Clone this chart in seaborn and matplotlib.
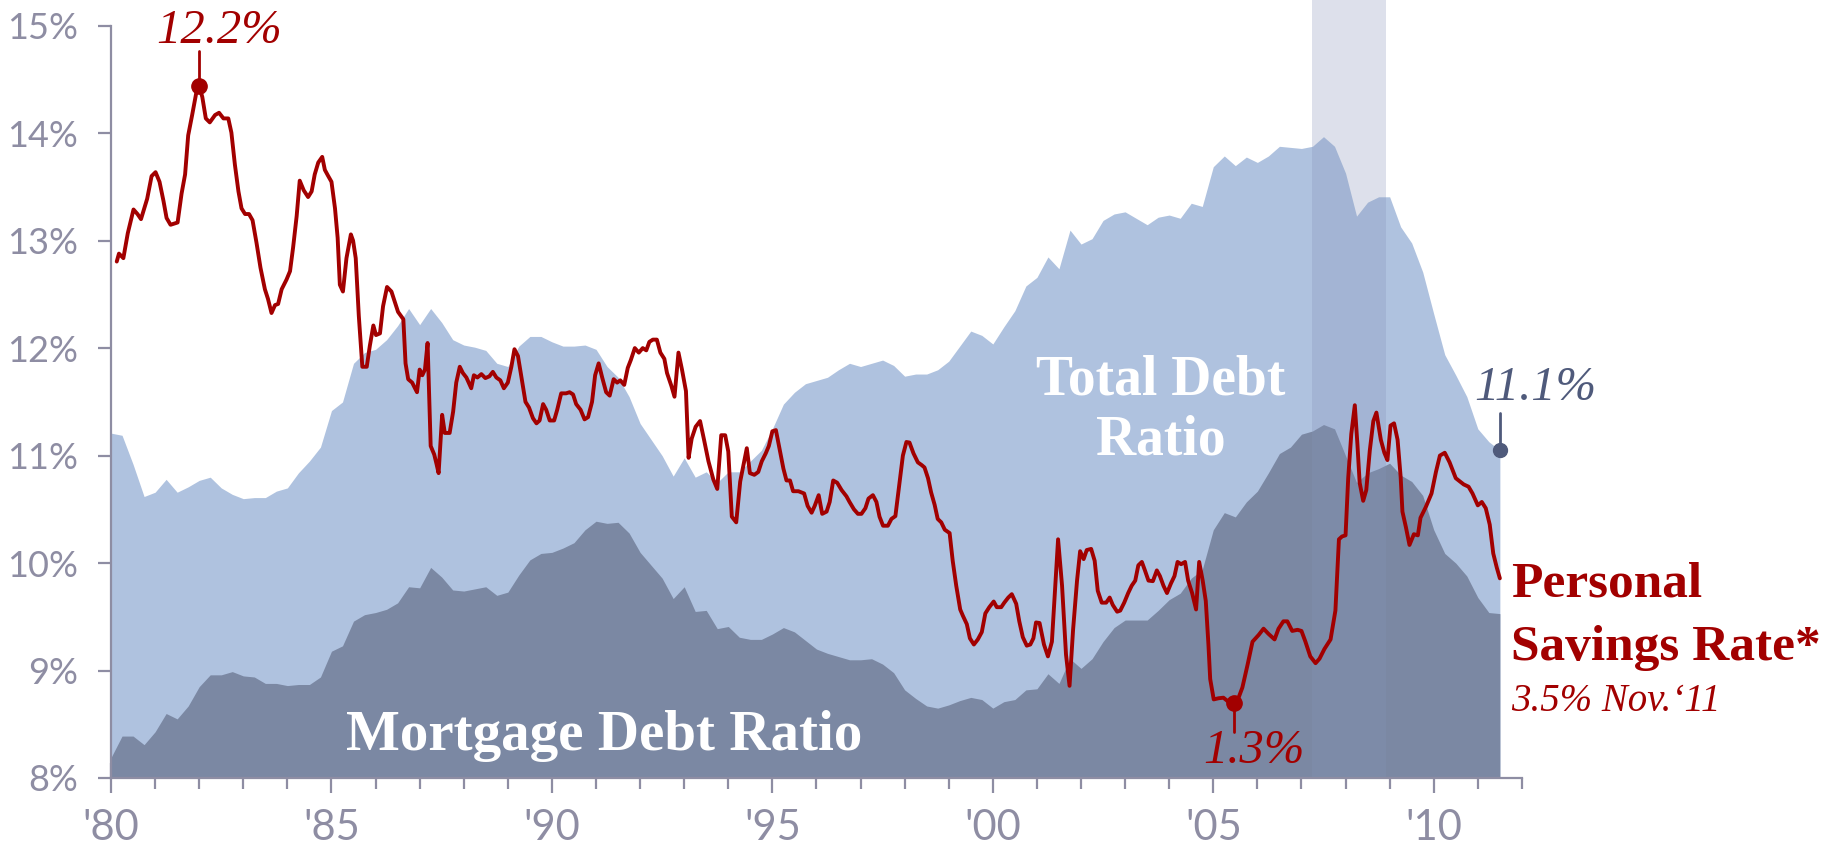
import numpy as np
import pandas as pd
import matplotlib
matplotlib.use('Agg')
import matplotlib.pyplot as plt
import seaborn as sns

sns.set_theme(style='white')
plt.rcParams['font.family'] = ['Lato', 'DejaVu Sans']
SERIF = ['Liberation Serif', 'DejaVu Serif']

# ==================== data ====================
# quarterly debt ratios, % of disposable income, 1980Q1 .. 2011Q3
total_debt = [
    11.21, 11.19, 10.92, 10.62, 10.66, 10.78, 10.66, 10.71, 10.77, 10.80, 10.70, 10.64,
    10.60, 10.61, 10.61, 10.67, 10.70, 10.84, 10.95, 11.08, 11.42, 11.50, 11.86, 11.96,
    11.99, 12.08, 12.21, 12.37, 12.22, 12.37, 12.24, 12.08, 12.03, 12.01, 11.98, 11.86,
    11.83, 12.02, 12.11, 12.11, 12.06, 12.02, 12.02, 12.03, 11.99, 11.83, 11.73, 11.55,
    11.30, 11.15, 11.00, 10.81, 10.98, 10.80, 10.85, 10.75, 10.85, 10.85, 10.95, 11.05,
    11.25, 11.48, 11.59, 11.67, 11.70, 11.73, 11.80, 11.86, 11.83, 11.86, 11.89, 11.84,
    11.74, 11.76, 11.76, 11.80, 11.88, 12.02, 12.16, 12.12, 12.04, 12.20, 12.35, 12.58,
    12.66, 12.85, 12.74, 13.10, 12.97, 13.02, 13.19, 13.25, 13.27, 13.21, 13.15, 13.22,
    13.24, 13.21, 13.35, 13.32, 13.69, 13.79, 13.70, 13.78, 13.73, 13.79, 13.88, 13.87,
    13.86, 13.88, 13.97, 13.88, 13.63, 13.23, 13.36, 13.41, 13.41, 13.13, 12.98, 12.71,
    12.32, 11.94, 11.75, 11.55, 11.25, 11.13, 11.05,
]
mortgage_debt = [
    8.19, 8.39, 8.39, 8.31, 8.43, 8.60, 8.55, 8.67, 8.85, 8.96, 8.96, 8.99,
    8.95, 8.94, 8.88, 8.88, 8.86, 8.87, 8.87, 8.94, 9.18, 9.23, 9.46, 9.52,
    9.54, 9.57, 9.63, 9.78, 9.77, 9.96, 9.87, 9.75, 9.74, 9.76, 9.78, 9.70,
    9.73, 9.89, 10.03, 10.09, 10.10, 10.14, 10.19, 10.31, 10.39, 10.37, 10.38, 10.28,
    10.10, 9.98, 9.86, 9.67, 9.78, 9.55, 9.56, 9.39, 9.41, 9.31, 9.29, 9.29,
    9.34, 9.40, 9.36, 9.28, 9.20, 9.16, 9.13, 9.10, 9.10, 9.11, 9.06, 8.98,
    8.82, 8.74, 8.67, 8.65, 8.68, 8.72, 8.75, 8.73, 8.65, 8.71, 8.73, 8.82,
    8.83, 8.97, 8.88, 9.11, 9.02, 9.11, 9.27, 9.40, 9.47, 9.47, 9.47, 9.56,
    9.66, 9.72, 9.86, 9.94, 10.31, 10.47, 10.43, 10.57, 10.67, 10.84, 11.02, 11.08,
    11.20, 11.23, 11.29, 11.25, 11.00, 10.75, 10.84, 10.88, 10.93, 10.82, 10.76, 10.63,
    10.31, 10.09, 10.00, 9.88, 9.68, 9.54, 9.53,
]
quarters = 1980 + 0.25 * np.arange(len(total_debt))

# personal savings rate, % (drawn on its own hidden scale)
savings_dates = [
    1980.13, 1980.18, 1980.28, 1980.38, 1980.51, 1980.60, 1980.68, 1980.82, 1980.92, 1981.01,
    1981.10, 1981.19, 1981.26, 1981.35, 1981.51, 1981.60, 1981.68, 1981.75, 1981.84, 1981.94,
    1982.00, 1982.07, 1982.15, 1982.24, 1982.36, 1982.45, 1982.55, 1982.66, 1982.73, 1982.81,
    1982.89, 1982.96, 1983.04, 1983.13, 1983.21, 1983.30, 1983.39, 1983.49, 1983.56, 1983.64,
    1983.72, 1983.79, 1983.87, 1983.98, 1984.06, 1984.13, 1984.21, 1984.28, 1984.37, 1984.47,
    1984.55, 1984.62, 1984.70, 1984.79, 1984.85, 1984.92, 1985.00, 1985.08, 1985.14, 1985.19,
    1985.26, 1985.34, 1985.44, 1985.49, 1985.55, 1985.62, 1985.70, 1985.80, 1985.87, 1985.95,
    1986.01, 1986.10, 1986.17, 1986.26, 1986.36, 1986.44, 1986.51, 1986.63, 1986.68, 1986.74,
    1986.83, 1986.94, 1987.00, 1987.06, 1987.12, 1987.18, 1987.25, 1987.33, 1987.38, 1987.43,
    1987.51, 1987.57, 1987.68, 1987.76, 1987.83, 1987.91, 1987.98, 1988.06, 1988.17, 1988.23,
    1988.31, 1988.40, 1988.49, 1988.58, 1988.66, 1988.74, 1988.83, 1988.91, 1989.00, 1989.08,
    1989.15, 1989.23, 1989.31, 1989.40, 1989.48, 1989.57, 1989.65, 1989.72, 1989.80, 1989.87,
    1989.95, 1990.05, 1990.12, 1990.21, 1990.32, 1990.40, 1990.48, 1990.55, 1990.65, 1990.74,
    1990.82, 1990.91, 1990.98, 1991.06, 1991.14, 1991.23, 1991.31, 1991.40, 1991.48, 1991.55,
    1991.64, 1991.72, 1991.79, 1991.88, 1991.97, 1992.06, 1992.14, 1992.21, 1992.29, 1992.38,
    1992.46, 1992.55, 1992.61, 1992.71, 1992.78, 1992.87, 1992.95, 1993.04, 1993.10, 1993.17,
    1993.26, 1993.36, 1993.45, 1993.55, 1993.66, 1993.75, 1993.84, 1993.93, 1994.00, 1994.08,
    1994.18, 1994.27, 1994.42, 1994.49, 1994.59, 1994.68, 1994.76, 1994.85, 1994.92, 1995.00,
    1995.08, 1995.15, 1995.25, 1995.32, 1995.40, 1995.47, 1995.59, 1995.72, 1995.80, 1995.89,
    1995.96, 1996.05, 1996.13, 1996.23, 1996.30, 1996.38, 1996.47, 1996.57, 1996.68, 1996.75,
    1996.85, 1996.94, 1997.02, 1997.11, 1997.18, 1997.28, 1997.36, 1997.43, 1997.51, 1997.62,
    1997.70, 1997.79, 1997.89, 1997.96, 1998.04, 1998.11, 1998.20, 1998.30, 1998.39, 1998.45,
    1998.53, 1998.60, 1998.68, 1998.75, 1998.83, 1998.91, 1999.02, 1999.09, 1999.17, 1999.26,
    1999.32, 1999.41, 1999.48, 1999.57, 1999.66, 1999.75, 1999.83, 1999.92, 2000.02, 2000.09,
    2000.19, 2000.26, 2000.35, 2000.43, 2000.53, 2000.60, 2000.68, 2000.77, 2000.85, 2000.92,
    2000.98, 2001.06, 2001.16, 2001.25, 2001.34, 2001.48, 2001.57, 2001.66, 2001.74, 2001.82,
    2001.91, 2001.98, 2002.06, 2002.13, 2002.23, 2002.31, 2002.38, 2002.47, 2002.57, 2002.65,
    2002.72, 2002.82, 2002.89, 2002.98, 2003.07, 2003.15, 2003.23, 2003.30, 2003.38, 2003.45,
    2003.53, 2003.63, 2003.72, 2003.79, 2003.87, 2003.95, 2004.04, 2004.12, 2004.19, 2004.27,
    2004.36, 2004.43, 2004.52, 2004.61, 2004.68, 2004.76, 2004.83, 2004.89, 2004.93, 2005.01,
    2005.12, 2005.23, 2005.34, 2005.46, 2005.55, 2005.66, 2005.78, 2005.89, 2006.03, 2006.14,
    2006.25, 2006.39, 2006.48, 2006.59, 2006.68, 2006.79, 2006.91, 2007.00, 2007.09, 2007.20,
    2007.32, 2007.41, 2007.52, 2007.66, 2007.77, 2007.85, 2007.92, 2008.00, 2008.06, 2008.13,
    2008.21, 2008.27, 2008.32, 2008.40, 2008.47, 2008.55, 2008.63, 2008.70, 2008.80, 2008.88,
    2008.95, 2009.02, 2009.10, 2009.18, 2009.25, 2009.29, 2009.37, 2009.45, 2009.55, 2009.64,
    2009.70, 2009.82, 2009.95, 2010.05, 2010.14, 2010.25, 2010.36, 2010.50, 2010.68, 2010.79,
    2010.88, 2011.00, 2011.09, 2011.18, 2011.27, 2011.35, 2011.43, 2011.50,
]
savings_rate = [
    9.10, 9.24, 9.16, 9.60, 10.02, 9.94, 9.85, 10.21, 10.61, 10.68,
    10.51, 10.17, 9.87, 9.75, 9.79, 10.30, 10.64, 11.33, 11.69, 12.11,
    12.20, 12.01, 11.63, 11.56, 11.69, 11.73, 11.63, 11.63, 11.38, 10.81,
    10.34, 10.04, 9.94, 9.94, 9.83, 9.43, 8.99, 8.61, 8.44, 8.19,
    8.33, 8.35, 8.61, 8.78, 8.93, 9.35, 9.90, 10.53, 10.36, 10.24,
    10.34, 10.64, 10.85, 10.95, 10.72, 10.62, 10.51, 10.04, 9.52, 8.69,
    8.57, 9.16, 9.58, 9.47, 9.16, 8.14, 7.24, 7.24, 7.61, 7.97,
    7.80, 7.83, 8.31, 8.65, 8.57, 8.38, 8.21, 8.08, 7.30, 7.02,
    6.96, 6.79, 7.19, 7.09, 7.19, 7.66, 5.84, 5.69, 5.53, 5.36,
    6.39, 6.07, 6.07, 6.45, 6.96, 7.24, 7.13, 7.05, 6.86, 7.09,
    7.05, 7.11, 7.04, 7.07, 7.15, 7.05, 7.00, 6.86, 6.96, 7.24,
    7.55, 7.43, 7.05, 6.62, 6.52, 6.33, 6.24, 6.29, 6.58, 6.48,
    6.29, 6.29, 6.48, 6.77, 6.77, 6.79, 6.75, 6.58, 6.48, 6.31,
    6.35, 6.62, 7.09, 7.30, 7.05, 6.79, 6.73, 7.02, 6.96, 7.00,
    6.92, 7.22, 7.36, 7.57, 7.49, 7.57, 7.53, 7.68, 7.72, 7.72,
    7.49, 7.38, 7.13, 6.90, 6.71, 7.49, 7.19, 6.81, 5.63, 5.97,
    6.18, 6.28, 5.95, 5.57, 5.25, 5.08, 6.03, 6.03, 5.74, 4.59,
    4.49, 5.21, 5.80, 5.36, 5.33, 5.38, 5.57, 5.71, 5.84, 6.10,
    6.12, 5.84, 5.44, 5.23, 5.23, 5.04, 5.04, 5.00, 4.78, 4.66,
    4.78, 4.97, 4.64, 4.68, 4.85, 5.23, 5.19, 5.06, 4.95, 4.85,
    4.72, 4.64, 4.64, 4.74, 4.91, 4.97, 4.85, 4.59, 4.43, 4.43,
    4.55, 4.60, 5.23, 5.67, 5.91, 5.90, 5.71, 5.55, 5.50, 5.46,
    5.27, 5.02, 4.80, 4.55, 4.49, 4.36, 4.30, 3.81, 3.37, 2.95,
    2.84, 2.69, 2.44, 2.33, 2.42, 2.55, 2.88, 2.99, 3.09, 2.99,
    2.99, 3.07, 3.16, 3.22, 3.05, 2.74, 2.46, 2.31, 2.33, 2.44,
    2.72, 2.71, 2.33, 2.12, 2.38, 4.19, 3.37, 2.15, 1.60, 2.59,
    3.46, 3.98, 3.84, 4.00, 4.02, 3.81, 3.28, 3.07, 3.07, 3.16,
    3.03, 2.91, 2.93, 3.07, 3.24, 3.37, 3.46, 3.73, 3.79, 3.64,
    3.46, 3.45, 3.64, 3.54, 3.37, 3.24, 3.41, 3.54, 3.79, 3.75,
    3.79, 3.46, 3.24, 2.95, 3.79, 3.46, 3.10, 2.33, 1.72, 1.36,
    1.38, 1.39, 1.32, 1.30, 1.34, 1.57, 1.98, 2.38, 2.50, 2.61,
    2.52, 2.42, 2.61, 2.74, 2.74, 2.57, 2.59, 2.57, 2.38, 2.12,
    2.00, 2.08, 2.25, 2.42, 2.93, 4.19, 4.24, 4.26, 5.27, 6.05,
    6.56, 5.86, 5.19, 4.87, 5.06, 5.76, 6.28, 6.43, 5.95, 5.72,
    5.59, 6.20, 6.24, 5.95, 5.29, 4.68, 4.40, 4.09, 4.28, 4.26,
    4.57, 4.76, 5.00, 5.38, 5.67, 5.72, 5.55, 5.27, 5.16, 5.12,
    5.00, 4.79, 4.85, 4.74, 4.45, 3.94, 3.69, 3.50,
]

recession = (2007.25, 2008.92)

y_ticks = [8, 9, 10, 11, 12, 13, 14, 15]
y_tick_labels = ['8%', '9%', '10%', '11%', '12%', '13%', '14%', '15%']
x_major = [1980, 1985, 1990, 1995, 2000, 2005, 2010]
x_tick_labels = ["'80", "'85", "'90", "'95", "'00", "'05", "'10"]
x_minor = list(range(1980, 2013))

# ==================== style ====================
TOTAL_C = '#afc2df'
MORT_C = '#7b88a3'
RED = '#a20000'
AXIS_C = '#8e8da3'
NAVY = '#4f5a7b'
BAND_C = '#8593b8'

fig = plt.figure(figsize=(18.29, 8.55), dpi=100)
ax = fig.add_axes([0.0607, 0.0901, 0.7714, 0.8795])

ax.fill_between(quarters, 8, total_debt, color=TOTAL_C, lw=0, zorder=1)
ax.fill_between(quarters, 8, mortgage_debt, color=MORT_C, lw=0, zorder=2)
band = ax.axvspan(*recession, ymin=0, ymax=1.035, color=BAND_C, alpha=0.28,
                  lw=0, zorder=3)
band.set_clip_on(False)

# savings rate on its own (hidden) scale
ax2 = ax.twinx()
sv = pd.DataFrame({'date': savings_dates, 'rate': savings_rate})
sns.lineplot(data=sv, x='date', y='rate', ax=ax2, color=RED, lw=2.8,
             estimator=None, sort=False)
ax2.set_ylim(-0.029, 13.264)
ax2.axis('off')

ax.set_xlim(1980, 2012)
ax.set_ylim(8, 15)

# axes cosmetics
for s in ['top', 'right']:
    ax.spines[s].set_visible(False)
for s in ['left', 'bottom']:
    ax.spines[s].set_color(AXIS_C)
    ax.spines[s].set_linewidth(1.6)
    ax.spines[s].set_zorder(5)
ax.set_yticks(y_ticks)
ax.set_yticklabels(y_tick_labels)
ax.set_xticks(x_major)
ax.set_xticklabels(x_tick_labels)
ax.set_xticks(x_minor, minor=True)
ax.tick_params(axis='y', direction='out', length=9.5, width=1.6, color=AXIS_C,
               labelcolor=AXIS_C, labelsize=26, pad=14, left=True)
ax.tick_params(axis='x', which='major', direction='inout', length=21, width=1.6,
               color=AXIS_C, labelcolor=AXIS_C, labelsize=30, pad=12, bottom=True)
ax.tick_params(axis='x', which='minor', direction='out', length=8, width=1.6,
               color=AXIS_C, bottom=True)
ax.set_xlabel('')
ax.set_ylabel('')

# ==================== annotations ====================
i_hi = int(np.argmax(savings_rate))
i_lo = int(np.argmin(savings_rate))
x_hi, y_hi = savings_dates[i_hi], savings_rate[i_hi]
x_lo, y_lo = savings_dates[i_lo], savings_rate[i_lo]

ax2.plot([x_hi, x_hi], [y_hi, y_hi + 0.62], color=RED, lw=2, clip_on=False)
ax2.plot(x_hi, y_hi, 'o', color=RED, ms=11, clip_on=False)
ax2.text(x_hi + 0.45, y_hi + 0.97, f'{y_hi:.1f}%', ha='center', va='center',
         color=RED, fontsize=35, style='italic', family=SERIF, clip_on=False)

ax2.plot([x_lo, x_lo], [y_lo, y_lo - 0.52], color=RED, lw=2)
ax2.plot(x_lo, y_lo, 'o', color=RED, ms=11)
ax2.text(x_lo + 0.47, y_lo - 0.86, f'{y_lo:.1f}%', ha='center', va='center',
         color=RED, fontsize=35, style='italic', family=SERIF)

x_end, y_end = quarters[-1], total_debt[-1]
ax.plot([x_end, x_end], [y_end, y_end + 0.35], color=NAVY, lw=2, clip_on=False, zorder=6)
ax.plot(x_end, y_end, 'o', color=NAVY, ms=10, clip_on=False, zorder=6)
ax.text(x_end + 0.8, y_end + 0.58, f'{y_end:.1f}%', ha='center', va='center',
        color=NAVY, fontsize=35, style='italic', family=SERIF, clip_on=False)

ax.text(2003.8, 11.42, 'Total Debt\nRatio', ha='center', va='center', color='white',
        fontsize=40, weight='bold', family=SERIF, zorder=4)
ax.text(1991.18, 8.39, 'Mortgage Debt Ratio', ha='center', va='center', color='white',
        fontsize=41, weight='bold', family=SERIF, zorder=4)

ax.text(2011.75, 9.69, 'Personal', ha='left', va='baseline', color=RED,
        fontsize=37, weight='bold', family=SERIF, clip_on=False)
ax.text(2011.75, 9.10, 'Savings Rate*', ha='left', va='baseline', color=RED,
        fontsize=37, weight='bold', family=SERIF, clip_on=False)
ax.text(2011.75, 8.62, f'{savings_rate[-1]:.1f}% Nov.\u201811', ha='left', va='baseline',
        color=RED, fontsize=28, style='italic', family=SERIF, clip_on=False)

fig.savefig('out.png', dpi=100)
